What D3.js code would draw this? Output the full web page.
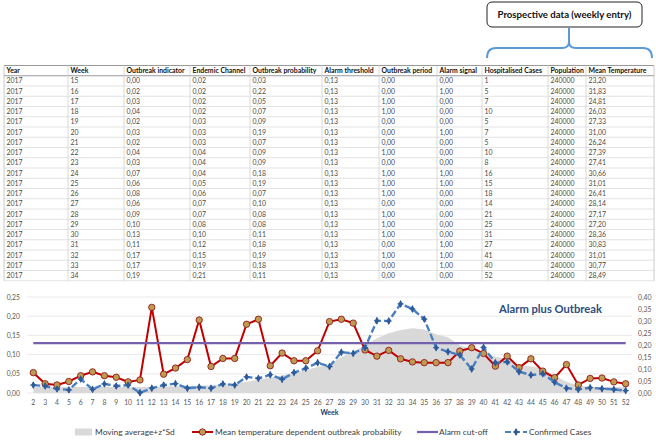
<!DOCTYPE html>
<html><head><meta charset="utf-8">
<script src="https://cdn.jsdelivr.net/npm/d3@7"></script>
<style>body{margin:0;background:#fff}svg{display:block}text{font-family:Lato,"Open Sans",sans-serif}</style>
</head><body><svg id="c" width="656" height="440"></svg>
<script>
// ---------- TABLE DATA ----------
const tableHeaders = ["Year","Week","Outbreak indicator","Endemic Channel","Outbreak probability","Alarm threshold","Outbreak period","Alarm signal","Hospitalised Cases","Population","Mean Temperature"];
const tYear = [2017,2017,2017,2017,2017,2017,2017,2017,2017,2017,2017,2017,2017,2017,2017,2017,2017,2017,2017,2017];
const tWeek = [15,16,17,18,19,20,21,22,23,24,25,26,27,28,29,30,31,32,33,34];
const tOutbreakIndicator = [0.00,0.02,0.03,0.04,0.02,0.03,0.02,0.04,0.03,0.07,0.06,0.08,0.06,0.09,0.10,0.13,0.11,0.17,0.17,0.19];
const tEndemicChannel = [0.02,0.02,0.02,0.02,0.03,0.03,0.03,0.04,0.04,0.04,0.05,0.06,0.07,0.07,0.08,0.10,0.12,0.15,0.19,0.21];
const tOutbreakProb = [0.03,0.22,0.05,0.07,0.09,0.19,0.07,0.09,0.09,0.18,0.19,0.07,0.10,0.08,0.08,0.11,0.18,0.19,0.18,0.11];
const tAlarmThreshold = [0.13,0.13,0.13,0.13,0.13,0.13,0.13,0.13,0.13,0.13,0.13,0.13,0.13,0.13,0.13,0.13,0.13,0.13,0.13,0.13];
const tOutbreakPeriod = [0,0,1,1,0,0,0,1,0,1,1,1,0,1,1,1,0,1,0,0];
const tAlarmSignal = [0,1,0,0,0,1,0,0,0,1,1,0,0,0,0,0,1,1,1,0];
const tHospCases = [1,5,7,10,5,7,5,10,8,16,15,18,14,21,25,31,27,41,40,52];
const tPopulation = [240000,240000,240000,240000,240000,240000,240000,240000,240000,240000,240000,240000,240000,240000,240000,240000,240000,240000,240000,240000];
const tMeanTemp = [23.20,31.83,24.81,26.03,27.33,31.00,26.24,27.39,27.41,30.66,31.01,26.41,28.14,27.17,27.20,28.36,30.83,31.01,30.77,28.49];

// ---------- CHART DATA ----------
const weeks = ["2","3","4","5","6","7","8","9","10","11","12","13","14","15","16","17","18","19","20","21","22","23","24","25","26","27","28","29","30","31","32","33","34","35","36","37","38","39","40","41","42","43","44","45","46","47","48","49","50","51","52"];
const movingAvgZSd = [0.025,0.025,0.025,0.025,0.025,0.025,0.025,0.025,0.025,0.025,0.026,0.027,0.028,0.029,0.030,0.032,0.035,0.040,0.047,0.055,0.065,0.073,0.085,0.096,0.108,0.118,0.150,0.172,0.200,0.228,0.249,0.263,0.270,0.265,0.245,0.232,0.198,0.183,0.172,0.151,0.142,0.118,0.110,0.103,0.073,0.047,0.030,0.026,0.025,0.025,0.024];
const meanTempProb = [0.053,0.024,0.021,0.030,0.045,0.055,0.045,0.041,0.029,0.034,0.223,0.049,0.065,0.087,0.190,0.069,0.090,0.090,0.179,0.192,0.071,0.104,0.084,0.084,0.110,0.186,0.192,0.182,0.112,0.096,0.111,0.089,0.081,0.079,0.079,0.079,0.109,0.118,0.103,0.070,0.096,0.066,0.089,0.057,0.040,0.074,0.021,0.038,0.039,0.029,0.024];
const confirmedCases = [0.033,0.029,0.017,0.013,0.058,0.015,0.038,0.029,0.033,0.001,0.020,0.033,0.039,0.020,0.024,0.020,0.038,0.033,0.067,0.061,0.076,0.057,0.085,0.103,0.126,0.110,0.170,0.165,0.189,0.301,0.300,0.371,0.350,0.308,0.189,0.172,0.158,0.100,0.190,0.126,0.130,0.089,0.075,0.080,0.045,0.020,0.015,0.022,0.018,0.015,0.010];
const alarmCutoff = 0.13;
const leftTicks = [0,0.05,0.10,0.15,0.20,0.25];
const rightTicks = [0,0.05,0.10,0.15,0.20,0.25,0.30,0.35,0.40];

const svg = d3.select("#c");
const loc = d3.formatLocale({decimal:",",thousands:"",grouping:[3],currency:["",""]});
const f2 = loc.format(".2f");

// ---------- TABLE ----------
const colX = [4,68,124,190,250,322,379,437,482,548,586,654];
const rowH = 10.25, tTop = 65.5;
const cols = [
  tYear.map(String), tWeek.map(String), tOutbreakIndicator.map(f2), tEndemicChannel.map(f2),
  tOutbreakProb.map(f2), tAlarmThreshold.map(f2), tOutbreakPeriod.map(f2), tAlarmSignal.map(f2),
  tHospCases.map(String), tPopulation.map(String), tMeanTemp.map(f2)
];
const nRows = tWeek.length;
const tb = svg.append("g");
for(let i=0;i<=nRows+1;i++){
  tb.append("line").attr("x1",colX[0]).attr("x2",colX[colX.length-1])
    .attr("y1",tTop+i*rowH).attr("y2",tTop+i*rowH)
    .attr("stroke", i<=1 ? "#9a9a9a" : "#dcdcdc").attr("stroke-width", i<=1?1:0.8);
}
colX.forEach((cx,i)=>{
  tb.append("line").attr("x1",cx).attr("x2",cx).attr("y1",tTop).attr("y2",tTop+(nRows+1)*rowH)
    .attr("stroke", (i===0||i===colX.length-1)?"#bdbdbd":"#d0d0d0").attr("stroke-width",0.8);
});
tableHeaders.forEach((h,j)=>{
  tb.append("text").attr("x",colX[j]+2.5).attr("y",tTop+rowH/2+2.4)
    .attr("font-size",6.9).attr("font-weight","bold").attr("fill","#111").text(h);
});
cols.forEach((col,j)=>{
  col.forEach((v,i)=>{
    tb.append("text").attr("x",colX[j]+2.5).attr("y",tTop+(i+1)*rowH+rowH/2+2.4)
      .attr("font-size",6.9).attr("fill","#4a4a4a").text(v);
  });
});

// ---------- CALLOUT ----------
svg.append("rect").attr("x",487).attr("y",2).attr("width",155).attr("height",25).attr("rx",5)
  .attr("fill","#fff").attr("stroke","#222").attr("stroke-width",1);
svg.append("text").attr("x",564.5).attr("y",18).attr("text-anchor","middle")
  .attr("font-size",9.6).attr("font-weight","bold").attr("fill","#111").text("Prospective data (weekly entry)");
svg.append("path").attr("d","M569,28 L569,42 M487,58 Q487,48 496,48 L562,48 Q569,48 569,42 Q569,48 576,48 L643,48 Q652,48 652,58")
  .attr("fill","none").attr("stroke","#5b9bd5").attr("stroke-width",2);

// ---------- CHART ----------
const x = d3.scaleBand().domain(weeks).range([27.4,631.6]);
const cx = w => x(w)+x.bandwidth()/2;
const yL = d3.scaleLinear().domain([0,0.25]).range([393,297]);
const yR = d3.scaleLinear().domain([0,0.40]).range([393,297]);

const g = svg.append("g");
g.selectAll("line.grid").data(leftTicks).join("line")
  .attr("x1",27.4).attr("x2",631.6).attr("y1",d=>yL(d)).attr("y2",d=>yL(d))
  .attr("stroke","#e4e4e4").attr("stroke-width",0.8);

g.append("path").datum(movingAvgZSd)
  .attr("d", d3.area().x((d,i)=>cx(weeks[i])).y0(yR(0)).y1(d=>yR(d)))
  .attr("fill","#d9d9d9");

g.append("path").datum(meanTempProb)
  .attr("d", d3.line().x((d,i)=>cx(weeks[i])).y(d=>yL(d)))
  .attr("fill","none").attr("stroke","#c00000").attr("stroke-width",2);
g.append("line").attr("x1",cx(weeks[0])).attr("x2",cx(weeks[weeks.length-1]))
  .attr("y1",yL(alarmCutoff)).attr("y2",yL(alarmCutoff))
  .attr("stroke","#7460ab").attr("stroke-width",2.4);
g.selectAll("circle.rm").data(meanTempProb).join("circle")
  .attr("cx",(d,i)=>cx(weeks[i])).attr("cy",d=>yL(d)).attr("r",3.2)
  .attr("fill","#bf9b52").attr("stroke","#8e1c1c").attr("stroke-width",0.9);

g.append("path").datum(confirmedCases)
  .attr("d", d3.line().x((d,i)=>cx(weeks[i])).y(d=>yR(d)))
  .attr("fill","none").attr("stroke","#4a7fc1").attr("stroke-width",2.4).attr("stroke-dasharray","7,3");
const diamond = d3.symbol().type(d3.symbolDiamond).size(18);
const markerG = g.selectAll("g.bm").data(confirmedCases).join("g")
  .attr("transform",(d,i)=>`translate(${cx(weeks[i])},${yR(d)})`);
markerG.append("path").attr("d",diamond).attr("fill","#2e5c9a");
markerG.append("path").attr("d","M-3,0 L3,0 M0,-3 L0,3").attr("stroke","#2e5c9a").attr("stroke-width",1.2);

const axL = g.append("g").attr("transform","translate(22,0)")
  .call(d3.axisLeft(yL).tickValues(leftTicks).tickFormat(f2).tickSize(0).tickPadding(2));
const axR = g.append("g").attr("transform","translate(636,0)")
  .call(d3.axisRight(yR).tickValues(rightTicks).tickFormat(f2).tickSize(0).tickPadding(2));
const axB = g.append("g").attr("transform","translate(0,393)")
  .call(d3.axisBottom(x).tickSize(0).tickPadding(7.5));
[axL,axR,axB].forEach(a=>{
  a.select(".domain").remove();
  a.selectAll("text").attr("fill","#595959").attr("font-size",6.8).attr("font-family","Lato, sans-serif");
});
svg.append("text").attr("x",329.5).attr("y",414.5).attr("text-anchor","middle")
  .attr("font-size",7).attr("font-weight","bold").attr("fill","#1f3864").text("Week");

svg.append("text").attr("x",499).attr("y",313)
  .attr("font-size",11.2).attr("font-weight","bold").attr("fill","#2b4d82").text("Alarm plus Outbreak");

const lg = svg.append("g").attr("font-size",8.4).attr("fill","#404040");
const ly = 432;
lg.append("rect").attr("x",75).attr("y",ly-3.5).attr("width",17).attr("height",7).attr("fill","#d9d9d9");
lg.append("text").attr("x",95).attr("y",ly+3).text("Moving average+z*Sd");
lg.append("line").attr("x1",192).attr("x2",213).attr("y1",ly).attr("y2",ly).attr("stroke","#c00000").attr("stroke-width",2);
lg.append("circle").attr("cx",202.5).attr("cy",ly).attr("r",3.2).attr("fill","#bf9b52").attr("stroke","#8e1c1c").attr("stroke-width",0.9);
lg.append("text").attr("x",215).attr("y",ly+3).text("Mean temperature dependent outbreak probability");
lg.append("line").attr("x1",417).attr("x2",438).attr("y1",ly).attr("y2",ly).attr("stroke","#7460ab").attr("stroke-width",2.2);
lg.append("text").attr("x",439).attr("y",ly+3).text("Alarm cut-off");
lg.append("line").attr("x1",505).attr("x2",527).attr("y1",ly).attr("y2",ly).attr("stroke","#4a7fc1").attr("stroke-width",2.2).attr("stroke-dasharray","6,3");
const lm = lg.append("g").attr("transform",`translate(516,${ly})`);
lm.append("path").attr("d",diamond).attr("fill","#2e5c9a");
lm.append("path").attr("d","M-3,0 L3,0 M0,-3 L0,3").attr("stroke","#2e5c9a").attr("stroke-width",1.2);
lg.append("text").attr("x",529).attr("y",ly+3).text("Confirmed Cases");
</script></body></html>
